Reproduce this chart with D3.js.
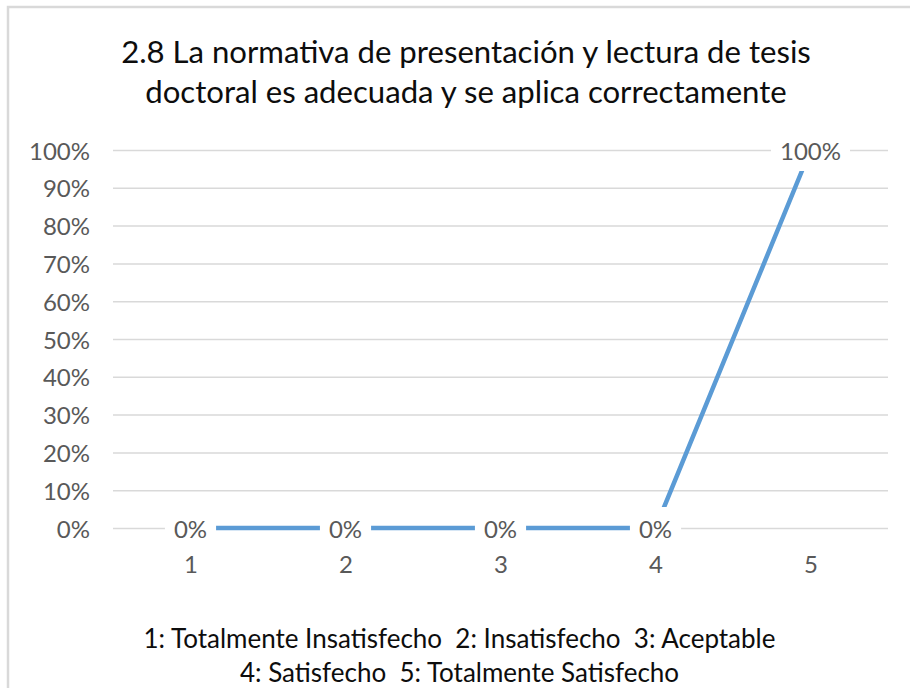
<!DOCTYPE html>
<html>
<head>
<meta charset="utf-8">
<script src="https://cdn.jsdelivr.net/npm/d3@7"></script>
<style>
  html, body { margin: 0; padding: 0; background: #fff; }
  svg { display: block; }
  text { white-space: pre; }
</style>
</head>
<body>
<svg id="chart" width="910" height="688"></svg>
<script>
// ---- data ----
const categories = ["1", "2", "3", "4", "5"];
const values = [0, 0, 0, 0, 100];          // percent
const yTicks = [0, 10, 20, 30, 40, 50, 60, 70, 80, 90, 100];
const titleLines = [
  "2.8 La normativa de presentación y lectura de tesis",
  "doctoral es adecuada y se aplica correctamente"
];
const legendLines = [
  "1: Totalmente Insatisfecho  2: Insatisfecho  3: Aceptable",
  "4: Satisfecho  5: Totalmente Satisfecho"
];

// ---- layout ----
const W = 910, H = 688;
const FONT = "Lato, 'Open Sans', sans-serif";
const plot = { left: 113, right: 888, top: 150, bottom: 528 };
const svg = d3.select("#chart");

function fitSize(text, target) {
  const t = svg.append("text").attr("font-family", FONT).attr("font-size", 100).text(text);
  const w = t.node().getComputedTextLength();
  t.remove();
  return 100 * target / w;
}

// chart border
svg.append("rect")
  .attr("x", 8).attr("y", 7).attr("width", W + 20).attr("height", H + 20)
  .attr("fill", "#fff").attr("stroke", "#d9d9d9").attr("stroke-width", 2.5);

const x = d3.scalePoint().domain(categories).range([plot.left, plot.right]).padding(0.5);
const y = d3.scaleLinear().domain([0, 100]).range([plot.bottom, plot.top]);

const tickSize = fitSize("100%", 61);

// title
const titleSize = fitSize(titleLines[0], 690);
svg.append("g").selectAll("text").data(titleLines).join("text")
  .attr("x", 466).attr("y", (d, i) => 63 + i * 39.5)
  .attr("text-anchor", "middle")
  .attr("font-family", FONT).attr("font-size", titleSize)
  .attr("fill", "#0d0d0d")
  .text(d => d);

// y axis with gridlines
const yAxis = svg.append("g")
  .attr("transform", `translate(${plot.left},0)`)
  .call(d3.axisLeft(y).tickValues(yTicks).tickFormat(d => d + "%")
        .tickSize(-(plot.right - plot.left)).tickPadding(23));
yAxis.select(".domain").remove();
yAxis.selectAll(".tick line").attr("stroke", "#d9d9d9").attr("stroke-width", 1.5);
yAxis.selectAll(".tick text")
  .attr("font-family", FONT).attr("font-size", tickSize).attr("fill", "#595959")
  .attr("dy", null).attr("y", 9);

// x axis
const xAxis = svg.append("g")
  .attr("transform", `translate(0,${plot.bottom})`)
  .call(d3.axisBottom(x).tickSize(0));
xAxis.select(".domain").remove();
xAxis.selectAll(".tick text")
  .attr("font-family", FONT).attr("font-size", tickSize).attr("fill", "#595959")
  .attr("dy", null).attr("y", 44.5);

// line
const pts = categories.map((c, i) => ({ c, v: values[i] }));
svg.append("path")
  .datum(pts)
  .attr("fill", "none")
  .attr("stroke", "#5b9bd5")
  .attr("stroke-width", 4.5)
  .attr("d", d3.line().x(d => x(d.c)).y(d => y(d.v)));

// data labels with white boxes
const lab = svg.append("g").selectAll("g").data(pts).join("g")
  .attr("transform", d => `translate(${x(d.c)},${y(d.v)})`);
lab.append("text")
  .attr("text-anchor", "middle")
  .attr("y", 9.5)
  .attr("font-family", FONT).attr("font-size", tickSize).attr("fill", "#595959")
  .text(d => d.v + "%");
lab.each(function() {
  const g = d3.select(this);
  const w = g.select("text").node().getComputedTextLength();
  g.insert("rect", "text")
    .attr("x", -w / 2 - 9).attr("y", -21)
    .attr("width", w + 18).attr("height", 42)
    .attr("fill", "#fff");
});

// legend text (same size for both lines)
const legendSize = fitSize(legendLines[0], 632);
svg.append("g").selectAll("text").data(legendLines).join("text")
  .attr("x", 459.5).attr("y", (d, i) => 648 + i * 34)
  .attr("text-anchor", "middle")
  .attr("font-family", FONT).attr("font-size", legendSize)
  .attr("fill", "#0d0d0d")
  .text(d => d);
</script>
</body>
</html>
